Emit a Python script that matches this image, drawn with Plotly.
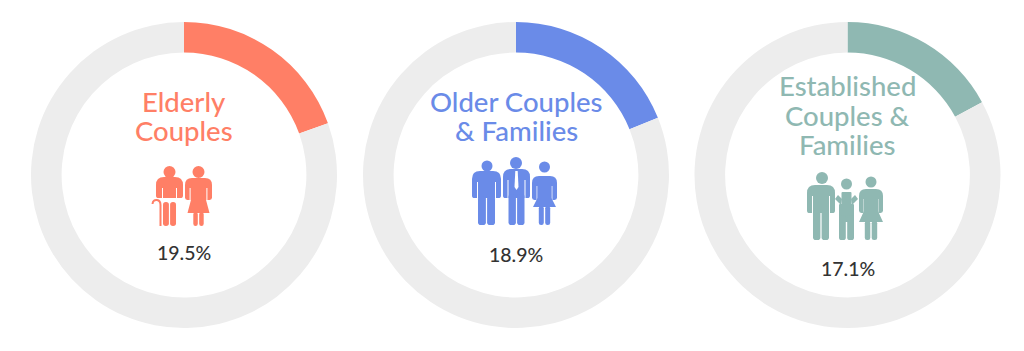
import plotly.graph_objects as go

W, H = 1024, 351

# --- data ---
groups = ["Elderly Couples", "Older Couples & Families", "Established Couples & Families"]
shares = [19.5, 18.9, 17.1]
share_labels = ["19.5%", "18.9%", "17.1%"]
title_lines = [["Elderly", "Couples"], ["Older Couples", "& Families"], ["Established", "Couples &", "Families"]]
colors = ["#FF7F66", "#6A8BE8", "#8FB8B2"]
track = "#EDEDED"

# --- layout in pixels ---
centers = [184, 516, 847.5]
cy, radius = 175, 153
title_y = [[101, 130], [101, 130], [86, 115, 145]]
pct_y = [253, 254, 268]

px = lambda x: x / W
py = lambda y: 1 - y / H

fig = go.Figure()
for g, s, c, cx in zip(groups, shares, colors, centers):
    fig.add_trace(go.Pie(
        values=[s, 100 - s], labels=[g, "Other"], hole=0.8, sort=False,
        direction="clockwise", rotation=0, textinfo="none", hoverinfo="label+percent",
        marker=dict(colors=[c, track], line=dict(width=0)), showlegend=False,
        domain=dict(x=[px(cx - radius), px(cx + radius)], y=[py(cy + radius), py(cy - radius)]),
    ))

ann = []
for cx, lines, ys, c, lab, yp in zip(centers, title_lines, title_y, colors, share_labels, pct_y):
    for t, y in zip(lines, ys):
        ann.append(dict(text=t, x=px(cx), y=py(y), xref="paper", yref="paper", showarrow=False,
                        xanchor="center", yanchor="middle", font=dict(family="Lato", size=27.5, color=c, weight=500)))
    ann.append(dict(text=lab, x=px(cx), y=py(yp), xref="paper", yref="paper", showarrow=False,
                    xanchor="center", yanchor="middle", font=dict(family="Lato", size=19.5, color="#333333", weight=500)))

# --- pictogram helpers (pixel coords) ---
shapes = []


def head(x, y, r, c):
    shapes.append(dict(type="circle", xref="paper", yref="paper", x0=px(x - r), x1=px(x + r),
                       y0=py(y + r), y1=py(y - r), fillcolor=c, line=dict(width=0), layer="above"))


def poly(pts, c):
    d = "M" + " L".join(f"{px(x):.5f},{py(y):.5f}" for x, y in pts) + " Z"
    shapes.append(dict(type="path", path=d, xref="paper", yref="paper", fillcolor=c,
                       line=dict(width=0), layer="above"))


def rrect(x0, y0, x1, y1, r, c, r_top=None):
    rt = r if r_top is None else r_top
    P = lambda x, y: f"{px(x):.5f},{py(y):.5f}"
    d = (f"M{P(x0 + rt, y0)} L{P(x1 - rt, y0)} Q{P(x1, y0)} {P(x1, y0 + rt)} "
         f"L{P(x1, y1 - r)} Q{P(x1, y1)} {P(x1 - r, y1)} L{P(x0 + r, y1)} "
         f"Q{P(x0, y1)} {P(x0, y1 - r)} L{P(x0, y0 + rt)} Q{P(x0, y0)} {P(x0 + rt, y0)} Z")
    shapes.append(dict(type="path", path=d, xref="paper", yref="paper", fillcolor=c,
                       line=dict(width=0), layer="above"))


def man(cx, hy, hr, x0, x1, top, arm_end, leg_end, c, arm=5.5, gap=1.2, tie=False):
    head(cx, hy, hr, c)
    rrect(x0, top, x1, arm_end, 2.6, c, r_top=8)
    t0, t1 = x0 + arm, x1 - arm
    for a in (t0 - 0.5, t1 - 0.5):
        poly([(a, top + 11), (a + 1, top + 11), (a + 1, arm_end + 1), (a, arm_end + 1)], "#FFFFFF")
    mid = (t0 + t1) / 2
    rrect(t0 + 0.5, top + 25, mid - gap / 2, leg_end, 2.8, c)
    rrect(mid + gap / 2, top + 25, t1 - 0.5, leg_end, 2.8, c)
    if tie:
        poly([(mid - 1.2, top + 2), (mid + 1.2, top + 2), (mid + 2, top + 18), (mid, top + 21), (mid - 2, top + 18)], "#FFFFFF")


def woman(cx, hy, hr, x0, x1, top, waist, hem, hem_w, leg_end, c, leg=5):
    head(cx, hy, hr, c)
    rrect(x0, top, x1, waist + 2, 2.4, c, r_top=7)
    for a in (x0 + 4.6, x1 - 5.6):
        poly([(a, top + 10), (a + 1, top + 10), (a + 1, waist + 3), (a, waist + 3)], "#FFFFFF")
    poly([(cx - 7, top + 6), (cx + 7, top + 6), (cx + 7, waist), (cx + hem_w / 2, hem), (cx - hem_w / 2, hem), (cx - 7, waist)], c)
    rrect(cx - leg - 0.7, hem - 1, cx - 0.7, leg_end, 2.3, c)
    rrect(cx + 0.7, hem - 1, cx + leg + 0.7, leg_end, 2.3, c)


# Elderly couple
c = colors[0]
man(169.5, 172, 6, 156, 183, 177, 198, 226, c, arm=6.5)
shapes.append(dict(type="path", xref="paper", yref="paper", line=dict(color=c, width=2), layer="above",
                   path=f"M{px(152.5):.5f},{py(204):.5f} Q{px(153):.5f},{py(199.5):.5f} {px(157):.5f},{py(200):.5f} "
                        f"Q{px(160.5):.5f},{py(200.5):.5f} {px(160.5):.5f},{py(205):.5f} L{px(160.5):.5f},{py(226):.5f}"))
woman(198.5, 172, 6, 185, 212, 178, 198, 213, 22, 226, c, leg=4.5)

# Older couples & families
c = colors[1]
man(487, 166, 5.5, 472, 501, 171, 198, 225, c, arm=5.5)
man(516, 163, 6, 503, 530, 169, 198, 225, c, arm=5, tie=True)
woman(544.5, 167, 5.5, 532, 557, 176, 198, 207, 23, 225, c, leg=5)

# Established couples & families
c = colors[2]
man(822, 178, 6, 807, 835, 185, 213, 240, c, arm=5.5)
head(846.5, 184, 5.5, c)
rrect(841.5, 192, 851.5, 222, 1, c)
rrect(839, 204, 854, 222, 1, c)
rrect(839, 215, 845.8, 240, 2.6, c)
rrect(847.2, 215, 854, 240, 2.6, c)
poly([(835, 199), (838, 195), (842, 199), (841, 205)], c)
poly([(858, 199), (855, 195), (851, 199), (852, 205)], c)
woman(871, 182, 5.5, 859, 883, 189, 211, 222, 24, 240, c, leg=5.5)

fig.update_layout(width=W, height=H, autosize=False, margin=dict(l=0, r=0, t=0, b=0),
                  paper_bgcolor="white", plot_bgcolor="white", annotations=ann, shapes=shapes)
fig.write_html("out.html", config=dict(displayModeBar=False),
               post_script="document.body.style.margin='0';document.body.style.overflow='hidden';")
